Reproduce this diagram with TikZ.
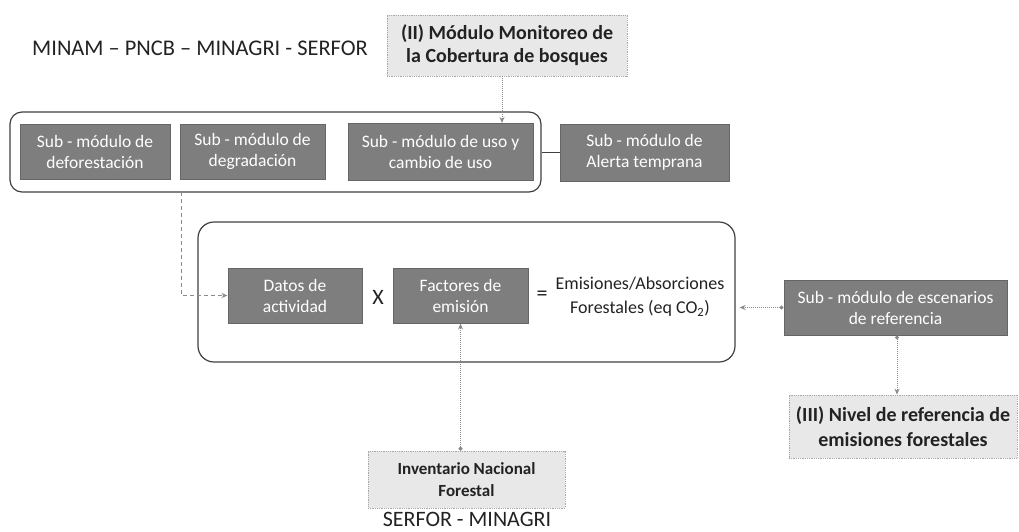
\documentclass[tikz,border=0pt]{standalone}
\usepackage{fontspec}
\setmainfont{Carlito}
\usetikzlibrary{arrows.meta}
\definecolor{darkbox}{HTML}{7E7E7E}
\definecolor{darkedge}{HTML}{666666}
\definecolor{lightbox}{HTML}{E8E8E8}
\definecolor{lightedge}{HTML}{A8A8A8}
\definecolor{conn}{HTML}{8A8A8A}
\definecolor{txt}{HTML}{222222}
\tikzset{
  darknode/.style={draw=darkedge, line width=1pt, fill=darkbox, text=white, align=center,
    font=\fontsize{17.5}{21}\selectfont, inner sep=0pt},
  lightnode/.style={draw=lightedge, densely dotted, line width=0.8pt, fill=lightbox, text=txt, align=center,
    inner sep=0pt},
  container/.style={draw=black!75, line width=1.2pt, rounded corners=12pt, inner sep=0pt},
  dotconn/.style={draw=conn, densely dotted, line width=1pt},
  dashconn/.style={draw=conn, dashed, dash pattern=on 4pt off 3pt, line width=1pt},
  tip/.style={-{Stealth[length=6pt,width=5pt]}},
  dottip/.style={{Circle[length=4pt]}-{Stealth[length=6pt,width=5pt]}},
  plaintext/.style={text=txt, align=center, inner sep=0pt},
}
\begin{document}
\begin{tikzpicture}[x=1pt,y=-1pt]
\useasboundingbox (0,0) rectangle (1019,531);
% top label
\node[plaintext, font=\fontsize{22.4}{26}\selectfont] (org1) at (200,48) {MINAM – PNCB – MINAGRI - SERFOR};
\node[lightnode, minimum width=240pt, minimum height=61pt, font=\fontsize{20}{23}\selectfont\bfseries] (modII) at (507,45.5) {(II) Módulo Monitoreo de\\la Cobertura de bosques};
% group of sub modules
\node[container, minimum width=531pt, minimum height=80pt] (grp) at (275.5,152) {};
\node[darknode, minimum width=150pt, minimum height=55pt] (b1) at (95,151.5) {Sub - módulo de\\deforestación};
\node[darknode, minimum width=145pt, minimum height=55pt] (b2) at (252.5,151.5) {Sub - módulo de\\degradación};
\node[darknode, minimum width=185pt, minimum height=57pt] (b3) at (440.5,152) {Sub - módulo de uso y\\cambio de uso};
\node[darknode, minimum width=169pt, minimum height=57pt] (b4) at (644.5,152.5) {Sub - módulo de\\Alerta temprana};
% big container
\node[container, rounded corners=16pt, minimum width=537pt, minimum height=140pt] (big) at (466.5,292) {};
\node[darknode, minimum width=134pt, minimum height=55pt] (datos) at (295,295.5) {Datos de\\actividad};
\node[plaintext, font=\fontsize{22}{24}\selectfont] (times) at (378,297) {X};
\node[plaintext, font=\fontsize{22}{24}\selectfont] (eq) at (542,296) {=};
\node[darknode, minimum width=135pt, minimum height=55pt] (fact) at (460.5,295.5) {Factores de\\emisión};
\node[plaintext, font=\fontsize{18}{24}\selectfont] (emis) at (640,297) {Emisiones/Absorciones\\Forestales (eq CO\textsubscript{2})};
% right side
\node[darknode, minimum width=223pt, minimum height=55pt] (esc) at (895.5,307.5) {Sub - módulo de escenarios\\de referencia};
\node[lightnode, minimum width=228pt, minimum height=63pt, font=\fontsize{20}{25}\selectfont\bfseries] (nivel) at (903,426.5) {(III) Nivel de referencia de\\emisiones forestales};
% bottom
\node[lightnode, minimum width=197pt, minimum height=57pt, font=\fontsize{17}{22}\selectfont\bfseries] (inv) at (466.5,479.5) {Inventario Nacional\\Forestal};
\node[plaintext, font=\fontsize{22}{24}\selectfont] (org2) at (467,519) {SERFOR - MINAGRI};
% connectors
\draw[dotconn, tip] ([xshift=-5pt]modII.south) -- ([xshift=-5pt]modII.south |- b3.north);
\draw[draw=black!75, line width=1.2pt] (grp.east |- b4.west) -- (b4.west);
\coordinate (dstart) at (181,192);
\draw[dashconn, tip] (dstart) |- (datos.west);
\draw[dotconn, dottip] (esc.west) -- ([xshift=4pt]esc.west -| big.east);
\draw[dotconn, dottip] ([xshift=1.5pt]esc.south) -- ([xshift=1.5pt]esc.south |- nivel.north);
\draw[dotconn, dottip] (inv.north -| fact.south) -- (fact.south);
\end{tikzpicture}
\end{document}
